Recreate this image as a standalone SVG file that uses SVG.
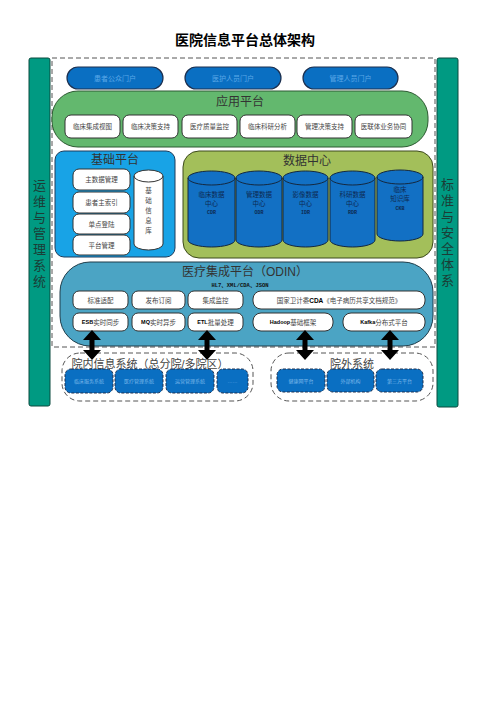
<svg xmlns="http://www.w3.org/2000/svg" width="504" height="713" viewBox="0 0 504 713">
<style>
text{font-family:"Liberation Sans","Noto Sans CJK SC",sans-serif;text-anchor:middle;dominant-baseline:central}
.side{fill:#009a82;stroke:#0b4a3e;stroke-width:1}
.sidet{font-size:13px;fill:#1b3d36}
.portal{fill:#0a6fc2;stroke:#1c3050;stroke-width:1.2}
.portalt{font-size:7px;fill:#5aa8e8}
.wbox{fill:#fff;stroke:#333;stroke-width:1}
.wt{font-size:6.5px;fill:#444}
.cyl{fill:#1270c4;stroke:#14283f;stroke-width:1}
.cylt{font-size:6.5px;fill:#0d2a52}
.cylb{font-size:5px;fill:#0d2a52;font-weight:bold;font-family:"Liberation Mono",monospace}
.big{font-size:12px;fill:#333}
.bbox{fill:#0a6fc2;stroke:#1c3050;stroke-width:1;stroke-dasharray:3 1.5}
.bt{font-size:5px;fill:#7bb8ea}
.dash{fill:none;stroke:#555;stroke-width:1;stroke-dasharray:5 3}
</style>
<defs>
<path id="dblarrow" d="M0,-15 L9,-5 L2.5,-5 L2.5,5 L9,5 L0,15 L-9,5 L-2.5,5 L-2.5,-5 L-9,-5 Z" fill="#000"/>
</defs>

<text x="245" y="40" style="font-size:14px;font-weight:bold;fill:#000">医院信息平台总体架构</text>

<g id="ops">
<rect class="side" x="29" y="58" width="21" height="348" rx="2"/>
<text class="sidet" x="39.5" y="185">运</text><text class="sidet" x="39.5" y="201">维</text><text class="sidet" x="39.5" y="217">与</text><text class="sidet" x="39.5" y="233">管</text><text class="sidet" x="39.5" y="249">理</text><text class="sidet" x="39.5" y="265">系</text><text class="sidet" x="39.5" y="281">统</text>
</g>
<g id="std">
<rect class="side" x="437" y="58" width="21" height="349" rx="2"/>
<text class="sidet" x="447.5" y="184">标</text><text class="sidet" x="447.5" y="200">准</text><text class="sidet" x="447.5" y="216">与</text><text class="sidet" x="447.5" y="232">安</text><text class="sidet" x="447.5" y="248">全</text><text class="sidet" x="447.5" y="264">体</text><text class="sidet" x="447.5" y="280">系</text>
</g>

<rect class="dash" x="52" y="58" width="383" height="289"/>

<g id="portals">
<rect class="portal" x="67" y="67" width="96" height="22" rx="11"/>
<text class="portalt" x="115" y="78">患者公众门户</text>
<rect class="portal" x="185" y="67" width="96" height="22" rx="11"/>
<text class="portalt" x="233" y="78">医护人员门户</text>
<rect class="portal" x="303" y="67" width="95" height="22" rx="11"/>
<text class="portalt" x="350.5" y="78">管理人员门户</text>
</g>

<g id="app">
<rect x="52" y="91" width="376" height="56" rx="26" fill="#63b86e" stroke="#2d5a32" stroke-width="1"/>
<text class="big" x="240" y="102">应用平台</text>
<rect class="wbox" x="65" y="115" width="55" height="23" rx="6"/><text class="wt" x="92.5" y="126.5">临床集成视图</text>
<rect class="wbox" x="123" y="115" width="55" height="23" rx="6"/><text class="wt" x="150.5" y="126.5">临床决策支持</text>
<rect class="wbox" x="182" y="115" width="55" height="23" rx="6"/><text class="wt" x="209.5" y="126.5">医疗质量监控</text>
<rect class="wbox" x="240" y="115" width="55" height="23" rx="6"/><text class="wt" x="267.5" y="126.5">临床科研分析</text>
<rect class="wbox" x="297" y="115" width="55" height="23" rx="6"/><text class="wt" x="324.5" y="126.5">管理决策支持</text>
<rect class="wbox" x="355" y="115" width="57" height="23" rx="6"/><text class="wt" x="383.5" y="126.5">医联体业务协同</text>
</g>

<g id="base">
<rect x="55" y="151" width="120" height="106" rx="9" fill="#18a3e6" stroke="#1d3b5a" stroke-width="1"/>
<text class="big" x="115" y="160">基础平台</text>
<rect class="wbox" x="73" y="169" width="57" height="21" rx="6"/><text class="wt" x="101.5" y="179.5">主数据管理</text>
<rect class="wbox" x="73" y="192" width="57" height="21" rx="6"/><text class="wt" x="101.5" y="202.5">患者主索引</text>
<rect class="wbox" x="73" y="214" width="57" height="20" rx="6"/><text class="wt" x="101.5" y="224">单点登陆</text>
<rect class="wbox" x="73" y="235" width="57" height="20" rx="6"/><text class="wt" x="101.5" y="245">平台管理</text>
<path d="M134,176 A14.5,6 0 0 1 163,176 L163,244 A14.5,6 0 0 1 134,244 Z" fill="#fff" stroke="#333"/>
<path d="M134,176 A14.5,6 0 0 0 163,176" fill="none" stroke="#333"/>
<text class="wt" x="148.5" y="190">基</text><text class="wt" x="148.5" y="200">础</text><text class="wt" x="148.5" y="210">信</text><text class="wt" x="148.5" y="220">息</text><text class="wt" x="148.5" y="230">库</text>
</g>

<g id="datacenter">
<rect x="183" y="151" width="250" height="107" rx="16" fill="#a3bf5a" stroke="#3d4a1c" stroke-width="1"/>
<text class="big" x="307" y="161">数据中心</text>
<g>
<path d="M188,178 A23.5,7 0 0 1 235,178 L235,240 A23.5,7 0 0 1 188,240 Z" class="cyl"/><path d="M188,178 A23.5,7 0 0 0 235,178" fill="none" stroke="#14283f"/>
<text class="cylt" x="211.5" y="194">临床数据</text><text class="cylt" x="211.5" y="203">中心</text><text class="cylb" x="211.5" y="213">CDR</text>
</g>
<g>
<path d="M236,178 A23,7 0 0 1 282,178 L282,240 A23,7 0 0 1 236,240 Z" class="cyl"/><path d="M236,178 A23,7 0 0 0 282,178" fill="none" stroke="#14283f"/>
<text class="cylt" x="259" y="194">管理数据</text><text class="cylt" x="259" y="203">中心</text><text class="cylb" x="259" y="213">ODR</text>
</g>
<g>
<path d="M283,178 A22.5,7 0 0 1 328,178 L328,240 A22.5,7 0 0 1 283,240 Z" class="cyl"/><path d="M283,178 A22.5,7 0 0 0 328,178" fill="none" stroke="#14283f"/>
<text class="cylt" x="305.5" y="194">影像数据</text><text class="cylt" x="305.5" y="203">中心</text><text class="cylb" x="305.5" y="213">IDR</text>
</g>
<g>
<path d="M330,178 A22.5,7 0 0 1 375,178 L375,240 A22.5,7 0 0 1 330,240 Z" class="cyl"/><path d="M330,178 A22.5,7 0 0 0 375,178" fill="none" stroke="#14283f"/>
<text class="cylt" x="352.5" y="194">科研数据</text><text class="cylt" x="352.5" y="203">中心</text><text class="cylb" x="352.5" y="213">RDR</text>
</g>
<g>
<path d="M377,177 A23,7 0 0 1 423,177 L423,234 A23,7 0 0 1 377,234 Z" class="cyl"/><path d="M377,177 A23,7 0 0 0 423,177" fill="none" stroke="#14283f"/>
<text class="cylt" x="400" y="189">临床</text><text class="cylt" x="400" y="198">知识库</text><text class="cylb" x="400" y="209">CKB</text>
</g>
</g>

<g id="odin">
<rect x="60" y="262" width="373" height="84" rx="30" fill="#4ba4c4" stroke="#1f3d4a" stroke-width="1"/>
<text class="big" x="245" y="272">医疗集成平台（ODIN）</text>
<text x="240" y="285" style="font-size:5.5px;font-weight:bold;fill:#111;font-family:'Liberation Mono','Noto Sans CJK SC',monospace">HL7、XML/CDA、JSON</text>
<rect class="wbox" x="73" y="291" width="55" height="18" rx="6"/><text class="wt" x="100.5" y="300">标准适配</text>
<rect class="wbox" x="132" y="291" width="53" height="18" rx="6"/><text class="wt" x="158.5" y="300">发布订阅</text>
<rect class="wbox" x="188" y="291" width="55" height="18" rx="6"/><text class="wt" x="215.5" y="300">集成监控</text>
<rect class="wbox" x="253" y="291" width="172" height="18" rx="8"/><text class="wt" x="339" y="300">国家卫计委<tspan font-weight="bold" fill="#000">CDA</tspan>《电子病历共享文档规范》</text>
<rect class="wbox" x="73" y="313" width="55" height="18" rx="6"/><text class="wt" x="100.5" y="322"><tspan font-weight="bold" fill="#000" font-size="5.5">ESB</tspan>实时同步</text>
<rect class="wbox" x="132" y="313" width="53" height="18" rx="6"/><text class="wt" x="158.5" y="322"><tspan font-weight="bold" fill="#000" font-size="5.5">MQ</tspan>实时异步</text>
<rect class="wbox" x="188" y="313" width="55" height="18" rx="6"/><text class="wt" x="215.5" y="322"><tspan font-weight="bold" fill="#000" font-size="5.5">ETL</tspan>批量处理</text>
<rect class="wbox" x="253" y="313" width="80" height="18" rx="8"/><text class="wt" x="293" y="322"><tspan font-weight="bold" fill="#000" font-size="5.5">Hadoop</tspan>基础框架</text>
<rect class="wbox" x="343" y="313" width="82" height="18" rx="8"/><text class="wt" x="384" y="322"><tspan font-weight="bold" fill="#000" font-size="5.5">Kafka</tspan>分布式平台</text>
</g>

<g id="inner">
<rect class="dash" x="62" y="353" width="191" height="48" rx="18"/>
<text x="150" y="364" style="font-size:11px;fill:#444">院内信息系统（总分院/多院区）</text>
<rect class="bbox" x="65" y="369" width="48" height="24" rx="6"/><text class="bt" x="89" y="381">临床服务系统</text>
<rect class="bbox" x="115" y="369" width="48" height="24" rx="6"/><text class="bt" x="139" y="381">医疗管理系统</text>
<rect class="bbox" x="166" y="369" width="48" height="24" rx="6"/><text class="bt" x="190" y="381">运营管理系统</text>
<rect class="bbox" x="217" y="369" width="31" height="24" rx="6"/><text class="bt" x="232.5" y="381">……</text>
</g>

<g id="outer">
<rect class="dash" x="271" y="353" width="162" height="48" rx="18"/>
<text x="352" y="364" style="font-size:11px;fill:#444">院外系统</text>
<rect class="bbox" x="277" y="369" width="48" height="23" rx="6"/><text class="bt" x="301" y="380.5">健康网平台</text>
<rect class="bbox" x="327" y="369" width="47" height="23" rx="6"/><text class="bt" x="350.5" y="380.5">外部机构</text>
<rect class="bbox" x="376" y="369" width="47" height="23" rx="6"/><text class="bt" x="399.5" y="380.5">第三方平台</text>
</g>

<g id="connectors">
<use href="#dblarrow" transform="translate(92,345)"/>
<use href="#dblarrow" transform="translate(207,345)"/>
<use href="#dblarrow" transform="translate(305,345)"/>
<use href="#dblarrow" transform="translate(390,345)"/>
</g>
</svg>
